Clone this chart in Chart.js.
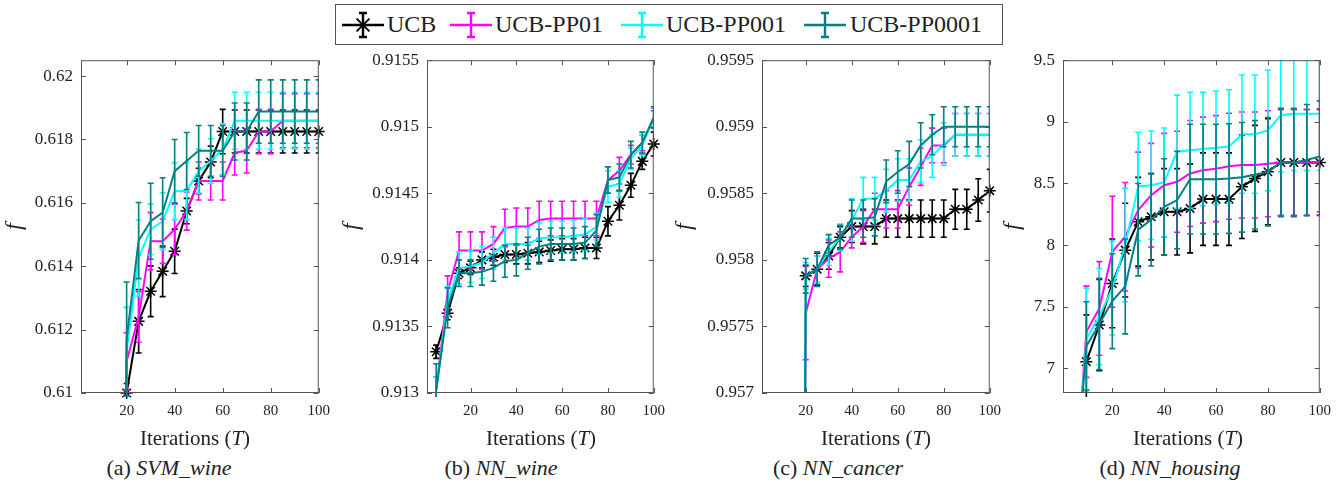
<!DOCTYPE html>
<html>
<head>
<meta charset="utf-8">
<script src="https://cdn.jsdelivr.net/npm/chart.js@4.4.1/dist/chart.umd.min.js"></script>
<style>
  body { margin:0; background:#fff; width:1343px; height:483px; position:relative; overflow:hidden;
         font-family:'Liberation Serif','Times New Roman',serif; color:#222; }
  canvas { position:absolute; top:42px; }
  .xt, .cap { position:absolute; transform:translateX(-50%); white-space:nowrap; line-height:24px; }
  .xt { top:426px; font-size:21px; }
  .cap { top:456px; font-size:22px; }
  #legend { position:absolute; left:335px; top:4px; width:666px; height:39px; border:1px solid #555; background:#fff; z-index:2; }
  .li { position:absolute; top:0; height:39px; display:flex; align-items:center; font-size:24px; }
</style>
</head>
<body>
<div id="legend"></div>
<canvas id="ca" width="339" height="388" style="left:0px"></canvas>
<canvas id="cb" width="337" height="388" style="left:337px"></canvas>
<canvas id="cc" width="340" height="388" style="left:670px"></canvas>
<canvas id="cd" width="342" height="388" style="left:998px"></canvas>

<div class="xt" style="left:195px">Iterations (<i>T</i>)</div>
<div class="xt" style="left:541px">Iterations (<i>T</i>)</div>
<div class="xt" style="left:876px">Iterations (<i>T</i>)</div>
<div class="xt" style="left:1188px">Iterations (<i>T</i>)</div>
<div class="cap" style="left:169px">(a) <i>SVM_wine</i></div>
<div class="cap" style="left:501px">(b) <i>NN_wine</i></div>
<div class="cap" style="left:838px">(c) <i>NN_cancer</i></div>
<div class="cap" style="left:1170px">(d) <i>NN_housing</i></div>

<script>
const seriesNames = ['UCB', 'UCB-PP01', 'UCB-PP001', 'UCB-PP0001'];
const seriesColors = ['#000000', '#ff00ff', '#00ffff', '#008080'];
const xTicks = [20, 40, 60, 80, 100];

// (a) SVM_wine
const iterA = [15,20,25,30,35,40,45,50,55,60,65,70,75,80,85,90,95,100];
const ucbA = [null,0.6100,0.61226,0.61321,0.61384,0.61447,0.61574,0.61669,0.61729,0.61825,0.61825,0.61825,0.61825,0.61825,0.61825,0.61825,0.61825,0.61825];
const ucbErrA = [null,0.0003,0.0010,0.0008,0.0008,0.0007,0.0004,0.0004,0.0005,0.0007,0.00068,0.00068,0.00068,0.00068,0.00068,0.00068,0.00068,0.00068];
const pp01A = [0.58,0.6110,0.6124,0.61479,0.61479,0.61516,0.61574,0.61669,0.61669,0.61669,0.61758,0.61764,0.61825,0.61825,0.61859,0.61859,0.61859,0.61859];
const pp01ErrA = [null,0.0009,0.0008,0.0009,0.0007,0.0008,0.0006,0.0006,0.0006,0.0006,0.0007,0.0007,0.0007,0.0007,0.00085,0.00085,0.00085,0.00085];
const pp001A = [0.58,0.6113,0.61426,0.61516,0.61542,0.61637,0.61637,0.61700,0.61732,0.61769,0.61859,0.61859,0.61859,0.61859,0.61859,0.61859,0.61859,0.61859];
const pp001ErrA = [null,0.0014,0.0012,0.0008,0.0009,0.0009,0.0009,0.0007,0.0007,0.0008,0.0009,0.0009,0.0009,0.0009,0.0009,0.0009,0.0009,0.0009];
const pp0001A = [0.58,0.6117,0.61481,0.61542,0.61569,0.61700,0.61732,0.61764,0.61764,0.61764,0.61825,0.61825,0.61888,0.61888,0.61888,0.61888,0.61888,0.61888];
const pp0001ErrA = [null,0.0018,0.0012,0.0012,0.0011,0.0010,0.0009,0.0008,0.0008,0.0008,0.0009,0.0009,0.0010,0.0010,0.0010,0.0010,0.0010,0.0010];
const yTicksA = [0.61, 0.612, 0.614, 0.616, 0.618, 0.62];

// (b) NN_wine
const iterB = [5,10,15,20,25,30,35,40,45,50,55,60,65,70,75,80,85,90,95,100];
const ucbB = [0.91331,0.91360,0.91390,0.91394,0.91400,0.91402,0.91404,0.91404,0.91405,0.91406,0.91407,0.91408,0.91408,0.91409,0.91409,0.91429,0.91441,0.91456,0.91474,0.91487];
const ucbErrB = [0.00005,0.00005,0.00004,0.00005,0.00006,0.00006,0.00006,0.00007,0.00008,0.00008,0.00008,0.00008,0.00008,0.00008,0.00008,0.00011,0.00011,0.00009,0.00006,0.00009];
const pp01B = [0.91302,0.91376,0.91407,0.91407,0.91407,0.91412,0.91424,0.91425,0.91425,0.91430,0.91431,0.91431,0.91431,0.91431,0.91431,0.91460,0.91467,0.91479,0.91488,0.91506];
const pp01ErrB = [0.0001,0.00012,0.00014,0.00014,0.00014,0.00013,0.00014,0.00014,0.00014,0.00014,0.00013,0.00013,0.00013,0.00013,0.00013,0.0001,0.0001,0.00007,0.00006,0.00006];
const pp001B = [0.91302,0.91369,0.91394,0.91395,0.91398,0.91405,0.91412,0.91412,0.91412,0.91416,0.91417,0.91417,0.91418,0.91419,0.91425,0.91455,0.91457,0.91476,0.91486,0.91507];
const pp001ErrB = [0.0001,0.00011,0.00012,0.00012,0.00012,0.00012,0.00012,0.00012,0.00012,0.00012,0.00012,0.00012,0.00012,0.00012,0.0001,0.00012,0.0001,0.00008,0.00008,0.00007];
const pp0001B = [0.91302,0.91364,0.91390,0.91390,0.91391,0.91394,0.91399,0.91400,0.91405,0.91410,0.91412,0.91412,0.91412,0.91413,0.91422,0.91460,0.91462,0.91479,0.91488,0.91507];
const pp0001ErrB = [0.0002,0.00015,0.0001,0.0001,0.0001,0.0001,0.00012,0.00012,0.00012,0.00013,0.00012,0.00012,0.00012,0.00012,0.00012,0.0001,0.0001,0.0001,0.00008,0.00008];
const yTicksB = [0.913, 0.9135, 0.914, 0.9145, 0.915, 0.9155];

// (c) NN_cancer
const iterC = [15,20,25,30,35,40,45,50,55,60,65,70,75,80,85,90,95,100];
const ucbC = [null,0.95788,0.95793,0.95803,0.95817,0.95825,0.95825,0.95825,0.95831,0.95831,0.95831,0.95831,0.95831,0.95831,0.95838,0.95838,0.95845,0.95852];
const ucbErrC = [null,0.00008,0.00012,0.0001,0.00008,0.00012,0.00013,0.00013,0.00014,0.00014,0.00014,0.00014,0.00014,0.00014,0.00015,0.00015,0.00016,0.00016];
const pp01C = [0.94,0.95760,0.95793,0.95801,0.95806,0.95817,0.95825,0.95838,0.95838,0.95838,0.95855,0.95870,0.95886,0.95886,0.95894,0.95894,0.95894,0.95894];
const pp01ErrC = [null,0.00035,0.0001,0.00014,0.00015,0.00008,0.00012,0.00012,0.00014,0.00014,0.00014,0.00014,0.00013,0.00013,0.00016,0.00016,0.00016,0.00016];
const pp001C = [0.94,0.95788,0.95793,0.95806,0.95817,0.95830,0.95846,0.95846,0.95852,0.95860,0.95860,0.95874,0.95878,0.95887,0.95894,0.95894,0.95894,0.95894];
const pp001ErrC = [null,0.0001,0.0001,0.0001,0.0001,0.00016,0.00016,0.00016,0.00016,0.00016,0.00016,0.00016,0.00016,0.00016,0.00016,0.00016,0.00016,0.00016];
const pp0001C = [0.94,0.95788,0.95793,0.95811,0.95817,0.95831,0.95831,0.95832,0.95859,0.95866,0.95872,0.95886,0.95894,0.95900,0.95900,0.95900,0.95900,0.95900];
const pp0001ErrC = [null,0.00013,0.00013,0.00008,0.00009,0.00014,0.00014,0.00014,0.00016,0.00016,0.00017,0.00017,0.00015,0.00015,0.00015,0.00015,0.00015,0.00015];
const yTicksC = [0.957, 0.9575, 0.958, 0.9585, 0.959, 0.9595];

// (d) NN_housing
const iterD = [5,10,15,20,25,30,35,40,45,50,55,60,65,70,75,80,85,90,95,100];
const ucbD = [null,7.054,7.351,7.689,7.959,8.189,8.230,8.270,8.270,8.297,8.373,8.373,8.373,8.473,8.541,8.595,8.670,8.670,8.670,8.670];
const ucbErrD = [null,0.38,0.37,0.36,0.38,0.36,0.35,0.35,0.35,0.36,0.375,0.375,0.375,0.42,0.43,0.43,0.43,0.43,0.43,0.43];
const pp01D = [5.8,7.297,7.486,7.946,8.068,8.284,8.405,8.486,8.514,8.581,8.608,8.62,8.64,8.65,8.65,8.66,8.67,8.67,8.67,8.675];
const pp01ErrD = [null,0.37,0.38,0.45,0.44,0.47,0.42,0.42,0.41,0.43,0.43,0.43,0.43,0.43,0.43,0.43,0.43,0.43,0.43,0.43];
const pp001D = [5.8,7.24,7.42,7.65,8.0,8.475,8.486,8.51,8.757,8.77,8.78,8.79,8.80,8.90,8.90,8.93,9.054,9.065,9.065,9.065];
const pp001ErrD = [null,0.41,0.39,0.38,0.46,0.44,0.44,0.44,0.46,0.47,0.46,0.46,0.46,0.48,0.48,0.49,0.46,0.46,0.46,0.46];
const pp0001D = [5.8,7.18,7.36,7.545,7.665,8.125,8.205,8.31,8.365,8.535,8.535,8.535,8.54,8.55,8.57,8.595,8.67,8.67,8.69,8.72];
const pp0001ErrD = [null,0.36,0.37,0.385,0.385,0.375,0.375,0.39,0.395,0.445,0.445,0.445,0.445,0.445,0.44,0.44,0.44,0.44,0.45,0.45];
const yTicksD = [7, 7.5, 8, 8.5, 9, 9.5];

const FONT = "'Liberation Serif', 'Times New Roman', serif";

// error bars drawn right after each dataset's line
const errPlugin = {
  id: 'errbars',
  afterDatasetDraw(chart, args) {
    const ds = chart.data.datasets[args.index];
    if (!ds.errors) return;
    const ctx = chart.ctx, a = chart.chartArea, y = chart.scales.y;
    ctx.save();
    ctx.beginPath();
    ctx.rect(a.left, a.top, a.width, a.height + 4);
    ctx.clip();
    ctx.strokeStyle = ds.borderColor;
    ctx.lineWidth = 1.6;
    args.meta.data.forEach((pt, i) => {
      const v = ds.data[i].y, e = ds.errors[i];
      if (v == null || e == null) return;
      const y1 = y.getPixelForValue(v + e), y2 = y.getPixelForValue(v - e);
      ctx.beginPath();
      ctx.moveTo(pt.x, y1); ctx.lineTo(pt.x, y2);
      ctx.moveTo(pt.x - 3, y1); ctx.lineTo(pt.x + 3, y1);
      ctx.moveTo(pt.x - 3, y2); ctx.lineTo(pt.x + 3, y2);
      ctx.stroke();
    });
    ctx.restore();
  }
};

// box around the plot with inward ticks on all sides
const framePlugin = {
  id: 'frame',
  afterDraw(chart) {
    const ctx = chart.ctx, a = chart.chartArea, x = chart.scales.x, y = chart.scales.y;
    ctx.save();
    ctx.strokeStyle = '#555';
    ctx.lineWidth = 1;
    ctx.strokeRect(a.left + 0.5, a.top + 0.5, a.width - 1, a.height - 1);
    ctx.beginPath();
    x.ticks.forEach(t => {
      const px = Math.round(x.getPixelForValue(t.value)) + 0.5;
      ctx.moveTo(px, a.bottom); ctx.lineTo(px, a.bottom - 5);
      ctx.moveTo(px, a.top); ctx.lineTo(px, a.top + 5);
    });
    y.ticks.forEach(t => {
      const py = Math.round(y.getPixelForValue(t.value)) + 0.5;
      ctx.moveTo(a.left, py); ctx.lineTo(a.left + 5, py);
      ctx.moveTo(a.right, py); ctx.lineTo(a.right - 5, py);
    });
    ctx.stroke();
    ctx.restore();
  }
};

function makePanel(id, xs, vals, errs, yMin, yMax, yTicks, axisW) {
  const datasets = vals.map((v, k) => ({
    label: seriesNames[k],
    data: xs.map((x, i) => ({ x: x, y: v[i] })),
    errors: errs[k],
    borderColor: seriesColors[k],
    backgroundColor: seriesColors[k],
    borderWidth: 2,
    tension: 0,
    spanGaps: false,
    order: 3 - k,
    clip: k === 0 ? 10 : 0,
    pointStyle: 'star',
    pointRadius: k === 0 ? 6 : 0,
    pointBorderWidth: 1.5,
    pointBorderColor: seriesColors[k]
  }));
  new Chart(document.getElementById(id), {
    type: 'line',
    data: { datasets },
    options: {
      responsive: false,
      animation: false,
      layout: { autoPadding: false, padding: 0 },
      plugins: { legend: { display: false }, tooltip: { enabled: false } },
      scales: {
        x: {
          type: 'linear', min: 1, max: 100,
          afterBuildTicks: s => { s.ticks = xTicks.map(v => ({ value: v })); },
          afterFit: s => { s.height = 37; },
          grid: { display: false, drawTicks: false },
          border: { display: false },
          ticks: { padding: 9, color: '#222', maxRotation: 0, autoSkip: false, font: { family: FONT, size: 15 } }
        },
        y: {
          type: 'linear', min: yMin, max: yMax,
          afterBuildTicks: s => { s.ticks = yTicks.map(v => ({ value: v })); },
          afterFit: s => { s.width = axisW; },
          grid: { display: false, drawTicks: false },
          border: { display: false },
          ticks: { padding: 8, color: '#222', font: { family: FONT, size: 17 }, callback: v => String(+v.toFixed(4)) },
          title: { display: true, text: 'f', color: '#222', padding: 0, font: { family: FONT, size: 24, style: 'italic' } }
        }
      }
    },
    plugins: [errPlugin, framePlugin]
  });
}

makePanel('ca', iterA, [ucbA, pp01A, pp001A, pp0001A], [ucbErrA, pp01ErrA, pp001ErrA, pp0001ErrA], 0.61, 0.6205, yTicksA, 81);
makePanel('cb', iterB, [ucbB, pp01B, pp001B, pp0001B], [ucbErrB, pp01ErrB, pp001ErrB, pp0001ErrB], 0.913, 0.9155, yTicksB, 90);
makePanel('cc', iterC, [ucbC, pp01C, pp001C, pp0001C], [ucbErrC, pp01ErrC, pp001ErrC, pp0001ErrC], 0.957, 0.9595, yTicksC, 92);
makePanel('cd', iterD, [ucbD, pp01D, pp001D, pp0001D], [ucbErrD, pp01ErrD, pp001ErrD, pp0001ErrD], 6.8, 9.5, yTicksD, 65);

// shared legend
const legendIconX = [6, 114, 285, 468];
const legendTextX = [51, 159, 330, 514];
const legend = document.getElementById('legend');
seriesNames.forEach((name, k) => {
  const c = seriesColors[k];
  let star = '';
  if (k === 0) {
    star = '<path d="M12 15h18M21 6v18M14.6 8.6l12.8 12.8M27.4 8.6L14.6 21.4" stroke="' + c + '" stroke-width="2"/>';
  }
  const svg = '<svg width="42" height="30" viewBox="0 0 42 30">' +
    '<path d="M0 15h42M21 3v24M17 3h8M17 27h8" stroke="' + c + '" stroke-width="2.4" fill="none"/>' + star + '</svg>';
  const icon = document.createElement('div');
  icon.className = 'li';
  icon.style.left = legendIconX[k] + 'px';
  icon.innerHTML = svg;
  legend.appendChild(icon);
  const txt = document.createElement('div');
  txt.className = 'li';
  txt.style.left = legendTextX[k] + 'px';
  txt.textContent = name;
  legend.appendChild(txt);
});
</script>
</body>
</html>
